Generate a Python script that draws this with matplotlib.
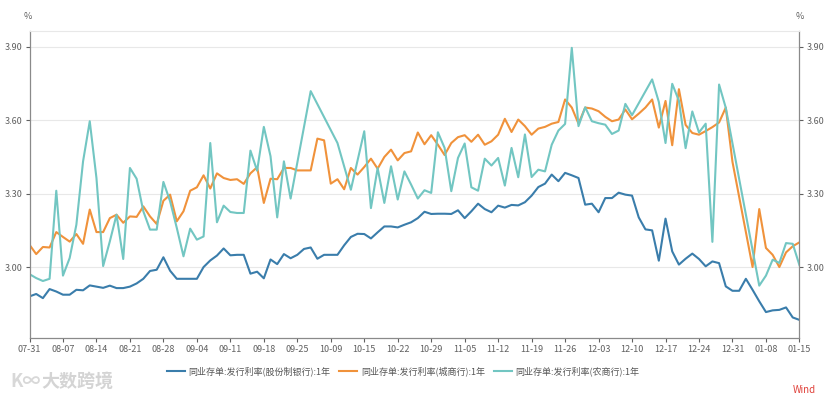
import numpy as np
import matplotlib
matplotlib.use("Agg")
from matplotlib import pyplot as plt

plt.rcParams['font.family'] = ['Noto Sans CJK SC', 'DejaVu Sans']

nan = np.nan

# x轴刻度（每5个交易日一个）
tick_labels = ['07-31', '08-07', '08-14', '08-21', '08-28', '09-04', '09-11', '09-18',
               '09-25', '10-09', '10-15', '10-22', '10-29', '11-05', '11-12', '11-19',
               '11-26', '12-03', '12-10', '12-17', '12-24', '12-31', '01-08', '01-15']

series_names = ['同业存单:发行利率(股份制银行):1年',
                '同业存单:发行利率(城商行):1年',
                '同业存单:发行利率(农商行):1年']

joint_stock = [
    2.880, 2.890, 2.873, 2.910, 2.900, 2.887, 2.887, 2.907, 2.905, 2.925,
    2.920, 2.915, 2.924, 2.914, 2.914, 2.920, 2.933, 2.952, 2.984, 2.989,
    3.040, 2.985, 2.952, 2.952, 2.952, 2.952, 3.000, 3.027, 3.047, 3.076,
    3.048, 3.050, 3.050, 2.973, 2.981, 2.954, 3.031, 3.012, 3.053, 3.036,
    3.050, 3.074, 3.080, 3.034, 3.050, 3.050, 3.050, 3.089, 3.123, 3.136,
    3.135, 3.117, 3.142, 3.166, 3.166, 3.162, 3.173, 3.183, 3.200, 3.226,
    3.217, 3.218, 3.218, 3.217, 3.232, 3.200, 3.228, 3.259, 3.237, 3.224,
    3.251, 3.243, 3.254, 3.252, 3.265, 3.292, 3.327, 3.341, 3.378, 3.351,
    3.385, 3.375, 3.364, 3.255, 3.259, 3.224, 3.282, 3.282, 3.304, 3.296,
    3.292, 3.203, 3.154, 3.150, 3.026, 3.198, 3.064, 3.010, 3.034, 3.055,
    3.033, 3.003, 3.023, 3.016, 2.921, 2.903, 2.903, 2.952, 2.907, 2.860,
    2.816, 2.823, 2.825, 2.835, 2.794, 2.784]

city_bank = [
    3.091, 3.053, 3.082, 3.080, 3.143, 3.123, 3.104, 3.135, 3.095, 3.235,
    3.143, 3.143, 3.200, 3.214, 3.181, 3.207, 3.205, 3.248, 3.207, 3.176,
    3.271, 3.296, 3.187, 3.228, 3.312, 3.326, 3.375, 3.321, 3.383, 3.364,
    3.356, 3.359, 3.340, 3.383, 3.408, 3.262, 3.361, 3.359, 3.405, 3.405,
    3.395, 3.395, 3.395, 3.525, 3.518, 3.341, 3.359, 3.318, 3.405, 3.378,
    3.409, 3.443, 3.402, 3.450, 3.480, 3.436, 3.466, 3.473, 3.550, 3.502,
    3.539, 3.500, 3.458, 3.507, 3.531, 3.539, 3.512, 3.541, 3.500, 3.514,
    3.541, 3.606, 3.552, 3.603, 3.576, 3.541, 3.566, 3.573, 3.586, 3.593,
    3.685, 3.652, 3.586, 3.652, 3.648, 3.637, 3.614, 3.596, 3.603, 3.644,
    3.604, 3.627, 3.652, 3.685, 3.570, 3.679, 3.498, 3.727, 3.581, 3.548,
    3.541, 3.556, 3.572, 3.591, 3.652, 3.430, nan, nan, 3.000, 3.237,
    3.078, 3.050, 3.000, 3.060, 3.085, 3.101]

rural_bank = [
    2.971, 2.955, 2.943, 2.952, 3.312, 2.965, 3.037, 3.173, 3.432, 3.596,
    3.364, 3.004, 3.105, 3.214, 3.033, 3.405, 3.361, 3.228, 3.153, 3.153,
    3.348, 3.269, 3.160, 3.044, 3.157, 3.112, 3.125, 3.507, 3.183, 3.251,
    3.225, 3.221, 3.221, 3.476, 3.394, 3.573, 3.453, 3.203, 3.432, 3.280,
    nan, nan, 3.719, nan, nan, nan, 3.507, nan, 3.316, nan,
    3.555, 3.241, 3.405, 3.262, 3.412, 3.276, 3.391, 3.337, 3.280, 3.314,
    3.303, 3.551, 3.487, 3.310, 3.446, 3.505, 3.326, 3.312, 3.443, 3.415,
    3.446, 3.333, 3.487, 3.367, 3.542, 3.368, 3.398, 3.391, 3.500, 3.558,
    3.585, 3.896, 3.576, 3.653, 3.596, 3.588, 3.582, 3.544, 3.558, 3.667,
    3.621, nan, nan, 3.767, 3.675, 3.507, 3.749, 3.680, 3.486, 3.636,
    3.550, 3.586, 3.103, 3.746, 3.651, nan, nan, nan, nan, 2.924,
    2.965, 3.030, 3.017, 3.098, 3.095, 3.008]

colors = ['#3a7dab', '#f0923b', '#72c6c2']

fig = plt.figure(figsize=(8.31, 3.97), dpi=100)
ax = fig.add_axes([0.0355, 0.1486, 0.9265, 0.7734])

for vals, name, c in zip([joint_stock, city_bank, rural_bank], series_names, colors):
    y = np.array(vals, dtype=float)
    x = np.arange(len(y))
    m = ~np.isnan(y)  # 缺失值处直接连线
    ax.plot(x[m], y[m], color=c, lw=1.5, label=name)

ax.set_xlim(0, len(joint_stock) - 1)
ax.set_ylim(2.71, 3.965)
ax.set_xticks(np.arange(0, len(joint_stock), 5))
ax.set_xticklabels(tick_labels)
ax.set_yticks([3.00, 3.30, 3.60, 3.90])
ax.set_yticklabels(['3.00', '3.30', '3.60', '3.90'])
ax.grid(axis='y', color='#e8e8e8', lw=0.8)
ax.set_axisbelow(True)

ax.tick_params(axis='both', labelsize=6.5, colors='#606060', length=3, width=0.8)
ax.tick_params(axis='y', right=True, labelright=True, pad=2)
ax.tick_params(axis='x', pad=2)
for s in ['left', 'bottom', 'right']:
    ax.spines[s].set_color('#8a8a8a')
    ax.spines[s].set_linewidth(0.9)
ax.spines['top'].set_color('#e8e8e8')

fig.text(0.034, 0.958, '%', fontsize=6.5, color='#606060', ha='center', va='center')
fig.text(0.963, 0.958, '%', fontsize=6.5, color='#606060', ha='center', va='center')

fig.legend(loc='center', bbox_to_anchor=(0.485, 0.065), ncol=3, frameon=False,
           fontsize=6.5, handlelength=2.0, handletextpad=0.4, columnspacing=1.0,
           labelcolor='#555555')

# 水印
fig.text(0.012, 0.04, 'K∞', fontsize=13, color='#d8d8d8', ha='left', va='center',
         fontweight='bold')
fig.text(0.05, 0.04, '大数跨境', fontsize=13, color='#d4d4d4', ha='left', va='center',
         fontweight='bold')
fig.text(0.982, 0.018, 'Wind', fontsize=7, color='#e0413a', ha='right', va='center')

fig.savefig('out.png', dpi=100)
